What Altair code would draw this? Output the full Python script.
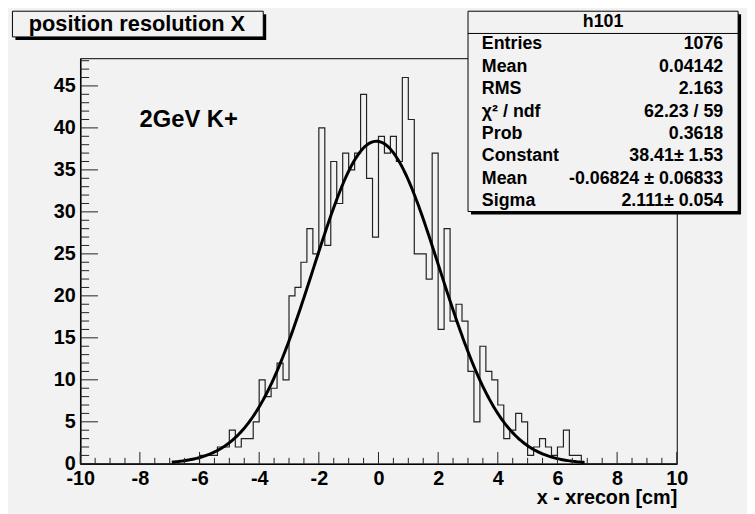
import altair as alt
import numpy as np
import pandas as pd

# ---------------- data ----------------
X_MIN, X_MAX = -10.0, 10.0
BIN_WIDTH = 0.2
Y_MAX = 48.3
# 100 bins of width 0.2 from -10 to 10
counts = ([0] * 20 +
          [1, 1, 1, 2, 2, 4, 2, 3, 3, 5,
           10, 8, 9, 12, 10, 20, 21, 24, 28, 25,
           40, 26, 36, 31, 37, 35, 37, 44, 34, 27,
           39, 37, 39, 36, 46, 41, 25, 25, 22, 37,
           16, 28, 17, 19, 17, 11, 5, 14, 11, 10,
           7, 3, 4, 6, 5, 1, 2, 3, 2, 1,
           2, 4, 1, 1] +
          [0] * 16)

# Gaussian fit parameters (from the stats box) and the drawn fit range
FIT_CONST, FIT_MEAN, FIT_SIGMA = 38.41, -0.06824, 2.111
FIT_XMIN, FIT_XMAX = -6.93, 6.91

x_major = [-10, -8, -6, -4, -2, 0, 2, 4, 6, 8, 10]
x_minor = [v / 2 for v in range(-20, 21) if v % 4 != 0]
y_major = [0, 5, 10, 15, 20, 25, 30, 35, 40, 45]
y_minor = [v for v in range(1, 49) if v % 5 != 0]

stats_rows = [
    ("Entries", "1076"),
    ("Mean", "0.04142"),
    ("RMS", "2.163"),
    ("\u03c7\u00b2 / ndf", "62.23 / 59"),
    ("Prob", "0.3618"),
    ("Constant", "38.41\u00b1 1.53"),
    ("Mean", "-0.06824 \u00b1 0.06833"),
    ("Sigma", "2.111\u00b1 0.054"),
]
HIST_NAME = "h101"
TITLE = "position resolution X"
ANNOT = "2GeV K+"
XTITLE = "x - xrecon [cm]"

# ---------------- style ----------------
FONT = "Liberation Sans"
BG = "#f2f2f2"
W, H = 603, 410
PAD_L, PAD_T = 73, 48
LBL = 20

edges = [X_MIN + BIN_WIDTH * i for i in range(len(counts) + 1)]
hist_df = pd.DataFrame({"x": edges, "n": counts + [counts[-1]]})

fx = np.linspace(FIT_XMIN, FIT_XMAX, 300)
fit_df = pd.DataFrame({"x": fx,
                       "y": FIT_CONST * np.exp(-0.5 * ((fx - FIT_MEAN) / FIT_SIGMA) ** 2)})

xscale = alt.Scale(domain=[X_MIN, X_MAX], nice=False, zero=False)
yscale = alt.Scale(domain=[0, Y_MAX], nice=False, zero=False)
label_expr = "datum.value < 0 ? '-' + abs(datum.value) : '' + datum.value"

hist = alt.Chart(hist_df).mark_line(
    interpolate="step-after", color="#222222", strokeWidth=1.2
).encode(
    x=alt.X("x:Q", scale=xscale,
            axis=alt.Axis(values=x_major, title=XTITLE, ticks=False, tickSize=0,
                          grid=False, domain=True, domainColor="black", domainWidth=1.5,
                          labelFont=FONT, labelFontWeight="bold", labelFontSize=LBL,
                          labelColor="black", labelPadding=5, labelFlush=False,
                          labelOverlap=False, labelExpr=label_expr,
                          titleFont=FONT, titleFontWeight="bold", titleFontSize=LBL,
                          titleColor="black", titleAnchor="end", titleAlign="right",
                          titleBaseline="alphabetic", titleX=W, titleY=40)),
    y=alt.Y("n:Q", scale=yscale,
            axis=alt.Axis(values=y_major, title=None, ticks=False, tickSize=0,
                          grid=False, domain=True, domainColor="black", domainWidth=1.5,
                          labelFont=FONT, labelFontWeight="bold", labelFontSize=LBL,
                          labelColor="black", labelPadding=5, labelOverlap=False,
                          labelFlush=False)),
)

fit = alt.Chart(fit_df).mark_line(color="black", strokeWidth=3).encode(
    x=alt.X("x:Q", scale=xscale), y=alt.Y("y:Q", scale=yscale))


def xticks(vals, length):
    return alt.Chart(pd.DataFrame({"t": vals})).mark_rule(color="#222222", strokeWidth=1).encode(
        x=alt.X("t:Q", scale=xscale), y=alt.value(H), y2=alt.value(H - length))


def yticks(vals, length):
    return alt.Chart(pd.DataFrame({"t": vals})).mark_rule(color="#222222", strokeWidth=1).encode(
        y=alt.Y("t:Q", scale=yscale), x=alt.value(0), x2=alt.value(length))


one = alt.Data(values=[{}])


def rect(x1, y1, x2, y2, fill, stroke=None, sw=1):
    kw = dict(fill=fill)
    if stroke:
        kw.update(stroke=stroke, strokeWidth=sw)
    return alt.Chart(one).mark_rect(**kw).encode(
        x=alt.value(x1), x2=alt.value(x2), y=alt.value(y1), y2=alt.value(y2))


def text(s, x, y, size, align="left", baseline="middle", weight="bold"):
    return alt.Chart(one).mark_text(
        text=s, font=FONT, fontSize=size, fontWeight=weight, color="black",
        align=align, baseline=baseline).encode(x=alt.value(x), y=alt.value(y))


def hline(x1, x2, y):
    return alt.Chart(one).mark_rule(color="black", strokeWidth=1).encode(
        x=alt.value(x1), x2=alt.value(x2), y=alt.value(y))


layers = [hist, fit,
          xticks(x_major, 12), xticks(x_minor, 6),
          yticks(y_major, 18), yticks(y_minor, 9)]

# annotation
layers.append(text(ANNOT, 60, 70, 24, baseline="alphabetic"))

# title box (with shadow)
tb = (-68.5, -47.5, 185, -21.5)
layers.append(rect(tb[0] + 3, tb[1] + 3, tb[2] + 3, tb[3] + 3, "black"))
layers.append(rect(*tb, BG, "black"))
layers.append(text(TITLE, (tb[0] + tb[2]) / 2 - 1, -27.5, 22, align="center",
                   baseline="alphabetic"))

# stats box
sb = (392, -47.5, 665, 155)
layers.append(rect(sb[0] + 3, sb[1] + 3, sb[2] + 3, sb[3] + 3, "black"))
layers.append(rect(*sb, BG, "black"))
layers.append(text(HIST_NAME, (sb[0] + sb[2]) / 2, -36.5, 18, align="center"))
layers.append(hline(sb[0], sb[2], -25))
for k, (lab, val) in enumerate(stats_rows):
    yy = -13.8 + 22.6 * k
    layers.append(text(lab, 406, yy, 18))
    layers.append(text(val, 650, yy, 18, align="right"))

chart = alt.layer(*layers).properties(
    width=W, height=H,
    padding={"left": PAD_L, "top": PAD_T, "right": 755 - 8 - PAD_L - W,
             "bottom": 514 - 8 - PAD_T - H},
    autosize=alt.AutoSizeParams(type="none"),
    background=BG,
).configure_view(stroke="black", strokeWidth=1, fill=BG)

chart.save("out.html", embed_options={"renderer": "svg", "actions": False})
